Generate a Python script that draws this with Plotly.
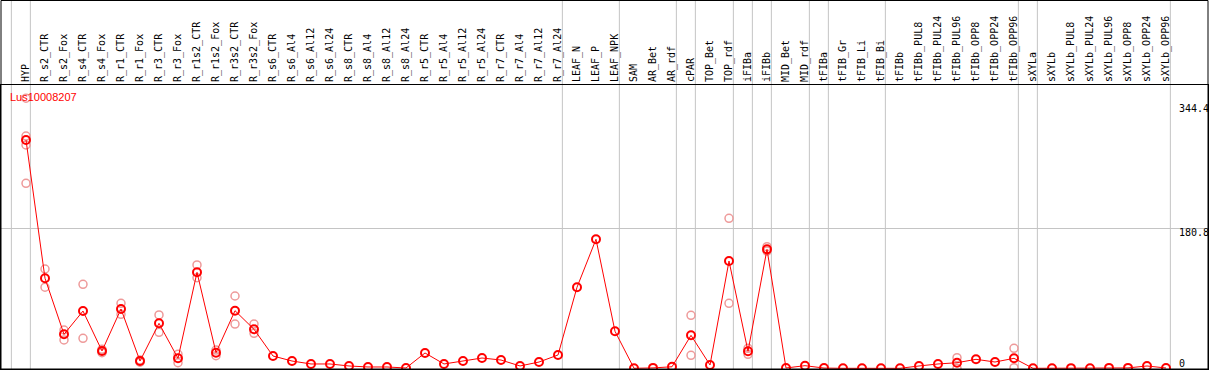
import plotly.graph_objects as go

# ---------------- data ----------------
gene = "Lus10008207"

categories = [
    "HYP", "R_s2_CTR", "R_s2_Fox", "R_s4_CTR", "R_s4_Fox", "R_r1_CTR", "R_r1_Fox",
    "R_r3_CTR", "R_r3_Fox", "R_r1s2_CTR", "R_r1s2_Fox", "R_r3s2_CTR", "R_r3s2_Fox",
    "R_s6_CTR", "R_s6_Al4", "R_s6_Al12", "R_s6_Al24", "R_s8_CTR", "R_s8_Al4",
    "R_s8_Al12", "R_s8_Al24", "R_r5_CTR", "R_r5_Al4", "R_r5_Al12", "R_r5_Al24",
    "R_r7_CTR", "R_r7_Al4", "R_r7_Al12", "R_r7_Al24", "LEAF_N", "LEAF_P", "LEAF_NPK",
    "SAM", "AR_Bet", "AR_rdf", "cPAR", "TOP_Bet", "TOP_rdf", "iFIBa", "iFIBb",
    "MID_Bet", "MID_rdf", "tFIBa", "tFIB_Gr", "tFIB_Li", "tFIB_Bi", "tFIBb",
    "tFIBb_PUL8", "tFIBb_PUL24", "tFIBb_PUL96", "tFIBb_OPP8", "tFIBb_OPP24",
    "tFIBb_OPP96", "sXYLa", "sXYLb", "sXYLb_PUL8", "sXYLb_PUL24", "sXYLb_PUL96",
    "sXYLb_OPP8", "sXYLb_OPP24", "sXYLb_OPP96",
]

means = [
    295.0, 116.3, 43.9, 74.0, 22.4, 76.6, 9.4, 58.1, 12.9, 124.0, 20.2, 74.4, 50.4,
    15.9, 9.4, 5.6, 5.6, 3.0, 1.7, 1.7, 0.4, 19.8, 5.6, 9.4, 13.3, 10.7, 3.0, 8.1, 17.2,
    104.7, 166.7, 47.8, 0.0, 0.5, 2.0, 42.6, 4.3, 138.6, 22.0, 153.7, 0.4, 3.4,
    0.3, 0.0, 0.0, 0.0, 0.0, 3.0, 5.6, 7.2, 11.6, 8.1, 12.9,
    0.0, 0.0, 0.2, 0.0, 0.5, 0.5, 3.0, 0.4,
]

replicates = [
    [349.0, 300.0, 288.5, 239.0], [128.3, 104.7], [49.5, 36.6], [108.5, 38.8],
    [24.5, 20.2], [84.0, 69.8], [10.7, 7.8], [68.9, 46.5], [18.1, 7.2],
    [133.5, 117.0], [23.6, 16.3], [93.4, 57.2], [57.2, 45.2],
    [], [], [], [], [], [], [], [], [], [], [], [], [], [], [], [],
    [], [], [], [], [], [], [68.5, 16.8], [], [193.8, 84.0], [25.8, 18.1], [157.1, 151.5],
    [], [], [], [], [], [], [], [], [], [13.7, 0.0], [], [], [25.8, 0.8],
    [], [], [], [], [], [], [], [],
]

# index of the last category of each group (group separators)
group_ends = [-1, 0, 28, 31, 34, 35, 37, 38, 39, 41, 42, 45, 52, 53, 60]

y_label_vals = [344.4, 180.8, 0]
grid_vals = [180.8]

# ---------------- figure ----------------
xs = list(range(len(categories)))

rep_x, rep_y = [], []
for i, reps in enumerate(replicates):
    for v in reps:
        rep_x.append(i)
        rep_y.append(v)

fig = go.Figure()

fig.add_trace(go.Scatter(
    x=rep_x, y=rep_y, mode="markers",
    marker=dict(symbol="circle-open", size=8, color="#ee9a9a",
                line=dict(width=1.5, color="#ee9a9a")),
    hoverinfo="skip", showlegend=False, cliponaxis=False,
))

fig.add_trace(go.Scatter(
    x=xs, y=means, mode="lines+markers",
    line=dict(color="red", width=1),
    marker=dict(symbol="circle-open", size=8, color="red",
                line=dict(width=2, color="red")),
    showlegend=False, cliponaxis=False,
))

W, H = 1209, 370
ml, mr, mt, mb = 1, 1, 85, 1
plot_h = H - mt - mb

shapes = []
for g in group_ends:
    shapes.append(dict(
        type="line", xref="x", yref="paper",
        x0=g + 0.23, x1=g + 0.23, y0=0, y1=1 + mt / plot_h,
        line=dict(color="#c4c4c4", width=1), layer="below",
    ))
# outer frame around header + plot
shapes.append(dict(
    type="rect", xref="paper", yref="paper",
    x0=0, x1=1, y0=0, y1=1 + (mt - 0.5) / plot_h,
    line=dict(color="black", width=1), layer="above",
))

annotations = [dict(
    text=gene, xref="paper", yref="paper",
    x=7.0 / (W - ml - mr), y=(H - mb - 97) / plot_h,
    xanchor="left", yanchor="middle", showarrow=False,
    font=dict(family="Liberation Sans, Arial, sans-serif", size=11, color="red"),
)]
label_shift = {344.4: 1, 180.8: 3, 0: -3}
for v in y_label_vals:
    annotations.append(dict(
        text=("%g" % v), xref="paper", yref="y",
        x=(1176.5 - ml) / (W - ml - mr), y=v,
        xanchor="left", yanchor=("bottom" if v == 0 else "top"),
        yshift=label_shift[v],
        showarrow=False,
        font=dict(family="DejaVu Sans Mono, monospace", size=10, color="black"),
    ))

x0 = -(26 - ml) / 19.0
x1 = x0 + (W - ml - mr) / 19.0
px_per_unit = 0.774
y0 = -(H - mb - 368.3) / px_per_unit
y1 = y0 + plot_h / px_per_unit

fig.update_layout(
    width=W, height=H,
    margin=dict(l=ml, r=mr, t=mt, b=mb, pad=0),
    paper_bgcolor="white", plot_bgcolor="white",
    shapes=shapes, annotations=annotations,
    xaxis=dict(
        side="top", range=[x0, x1], tickmode="array",
        tickvals=xs, ticktext=categories, tickangle=-90,
        tickfont=dict(family="DejaVu Sans Mono, monospace", size=10, color="black"),
        showgrid=False, zeroline=False, ticks="",
        showline=True, linecolor="black", linewidth=1, mirror=True,
        fixedrange=True,
    ),
    yaxis=dict(
        range=[y0, y1], tickmode="array", tickvals=grid_vals,
        showticklabels=False, showgrid=True, gridcolor="#c4c4c4", gridwidth=1,
        zeroline=False, ticks="",
        showline=True, linecolor="black", linewidth=1, mirror=True,
        fixedrange=True,
    ),
)

fig.write_html(
    "out.html",
    config={"displayModeBar": False},
    post_script="document.body.style.margin='0';document.body.style.overflow='hidden';",
)
